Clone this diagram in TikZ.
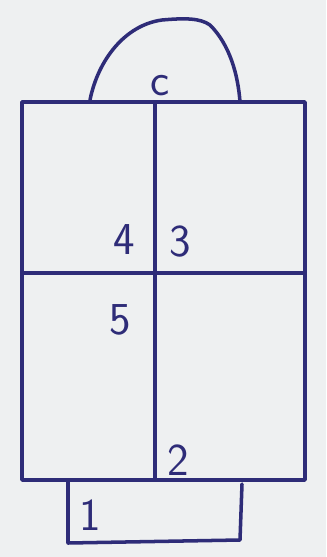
\documentclass[tikz,border=0pt]{standalone}
\usetikzlibrary{positioning}
\definecolor{skpaper}{HTML}{EEF0F1}
\definecolor{skink}{HTML}{2E2C78}

\begin{document}
\begin{tikzpicture}[
      x=0.02cm, y=-0.02cm,
      pen/.style={draw=skink, line width=2pt, line join=round, line cap=round},
      num/.style={font=\fontsize{26}{26}\selectfont\sffamily\color{skink}, inner sep=0pt}
    ]
      % Paper
      \fill[skpaper] (0,0) rectangle (326,557);
      \useasboundingbox (0,0) rectangle (326,557);

      % Arch on top
      \draw[pen] (90,100) .. controls (98,60) and (125,25) .. (162,20)
                 .. controls (185,18) and (200,18) .. (210,25)
                 .. controls (230,45) and (238,75) .. (240,102);

      % Outer frame
      \coordinate (tl) at (22,102);
      \coordinate (br) at (305,480);
      \draw[pen] (tl) rectangle (br);

      % Dividers
      \coordinate (midtop) at (155,102);
      \coordinate (midbot) at (155,480);
      \coordinate (lmid) at (22,273);
      \coordinate (rmid) at (305,273);
      \draw[pen] (midtop) -- (midbot);
      \draw[pen] (lmid) -- (rmid);

      % Step below
      \draw[pen] (68,482) -- (68,543) -- (240,540) -- (242,484);

      % Numbers
      \node[num] (n6) at (160,86) {c};
      \node[num] (n4) at (124,240) {4};
      \node[num] (n3) at (180,242) {3};
      \node[num] (n5) at (120,320) {5};
      \node[num] (n2) at (178,460) {2};
      \node[num] (n1) at (90,515) {1};
    \end{tikzpicture}
\end{document}
